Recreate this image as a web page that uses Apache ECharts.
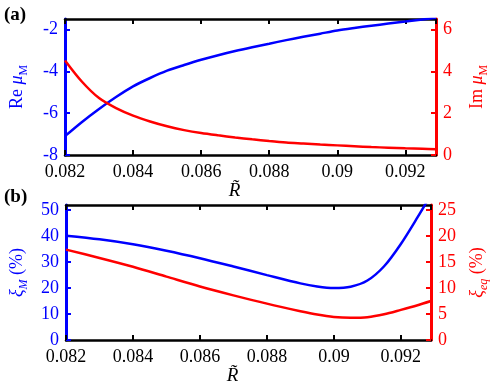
<!DOCTYPE html>
<html>
<head>
<meta charset="utf-8">
<script src="https://cdn.jsdelivr.net/npm/echarts@6/dist/echarts.min.js"></script>
<style>
  html, body { margin: 0; padding: 0; background: #fff; }
  #main { width: 498px; height: 388px; }
</style>
</head>
<body>
<div id="main"></div>
<script>
// panel (a): R~ against Re / Im of mu_M
const rTop = [0.082, 0.0825, 0.083, 0.0835, 0.084, 0.0845, 0.085, 0.0855, 0.086, 0.0865, 0.087, 0.0875,
              0.088, 0.0885, 0.089, 0.0895, 0.090, 0.0905, 0.091, 0.0915, 0.092, 0.0925, 0.0929];
const reMu = [-7.1, -6.42, -5.8, -5.23, -4.72, -4.32, -3.97, -3.7, -3.45, -3.23, -3.03, -2.85,
              -2.68, -2.51, -2.35, -2.2, -2.05, -1.93, -1.82, -1.72, -1.62, -1.52, -1.44];
const imMu = [4.52, 3.5, 2.72, 2.24, 1.88, 1.6, 1.37, 1.19, 1.05, 0.94, 0.84, 0.75,
              0.67, 0.6, 0.55, 0.5, 0.46, 0.42, 0.38, 0.35, 0.32, 0.3, 0.28];

// panel (b): R~ against xi_M and xi_eq (%)
const rBot = [0.082, 0.083, 0.084, 0.085, 0.086, 0.087, 0.088, 0.089, 0.0895, 0.090, 0.0905, 0.091, 0.0915, 0.092, 0.0925, 0.0929];
const xiM  = [40.2, 38.8, 36.9, 34.4, 31.5, 28.3, 25.0, 21.8, 20.6, 20.0, 20.5, 22.9, 28.4, 37.0, 47.3, 56.0];
const xiEq = [17.4, 15.8, 14.1, 12.2, 10.3, 8.6, 7.0, 5.55, 4.9, 4.45, 4.3, 4.4, 4.95, 5.8, 6.7, 7.5];

const xTicks = { min: 0.082, max: 0.0929, interval: 0.002 };

const BLUE = '#0000ff';
const RED = '#ff0000';
const FONT = 'Liberation Serif';

let myChart = echarts.init(document.getElementById('main'), null, { renderer: 'canvas' });

function pairs(xs, ys) {
  return xs.map((x, i) => [x, ys[i]]);
}

function bottomX(gridIndex) {
  return {
    type: 'value',
    gridIndex: gridIndex,
    position: 'bottom',
    min: xTicks.min, max: xTicks.max, interval: xTicks.interval,
    name: 'R\u0303',
    nameLocation: 'middle',
    nameGap: 19,
    nameTextStyle: { fontFamily: FONT, fontStyle: 'italic', fontSize: 19, color: '#000', padding: [0, 32, 0, 0] },
    axisLine: { onZero: false, lineStyle: { color: '#000', width: 2.5 } },
    axisTick: { inside: true, length: 5, lineStyle: { width: 2 } },
    axisLabel: {
      margin: 8, fontFamily: FONT, fontSize: 18, color: '#000', showMaxLabel: false,
      formatter: v => String(+v.toFixed(3))
    },
    splitLine: { show: false }
  };
}

// plain top frame line with inner ticks
function topX(gridIndex) {
  return {
    type: 'value',
    gridIndex: gridIndex,
    position: 'top',
    min: xTicks.min, max: xTicks.max, interval: xTicks.interval,
    axisLine: { onZero: false, lineStyle: { color: '#000', width: 2.5 } },
    axisTick: { inside: true, length: 5, lineStyle: { width: 2 } },
    axisLabel: { show: false },
    splitLine: { show: false }
  };
}

function yAx(gridIndex, pos, color, min, max, interval, name, rich, gap) {
  return {
    type: 'value',
    gridIndex: gridIndex,
    position: pos,
    min: min, max: max, interval: interval,
    name: name,
    nameLocation: 'middle',
    nameRotate: 90,
    nameGap: gap,
    nameTextStyle: { color: color, fontFamily: FONT, fontSize: 18, rich: rich },
    axisLine: { show: true, onZero: false, lineStyle: { color: color, width: 3 } },
    axisTick: { show: true, inside: true, length: 5, lineStyle: { color: color, width: 2 } },
    axisLabel: { margin: 7, fontFamily: FONT, fontSize: 18, color: color, showMaxLabel: false },
    splitLine: { show: false }
  };
}

function richFor(color) {
  return {
    n: { color: color, fontFamily: FONT, fontSize: 18, lineHeight: 26, verticalAlign: 'middle' },
    i: { color: color, fontFamily: FONT, fontSize: 18, fontStyle: 'italic', lineHeight: 26, verticalAlign: 'middle' },
    s: { color: color, fontFamily: FONT, fontSize: 12, height: 12, verticalAlign: 'bottom' },
    si: { color: color, fontFamily: FONT, fontSize: 12, fontStyle: 'italic', height: 12, verticalAlign: 'bottom' }
  };
}

function line(xi, yi, xs, ys, color) {
  return {
    type: 'line',
    xAxisIndex: xi,
    yAxisIndex: yi,
    data: pairs(xs, ys),
    smooth: 0.3,
    showSymbol: false,
    clip: true,
    lineStyle: { color: color, width: 2.5 },
    itemStyle: { color: color },
    z: 3
  };
}

myChart.setOption({
  backgroundColor: '#fff',
  animation: false,
  grid: [
    { left: 55, right: 56, top: 19, height: 136 },
    { left: 55, right: 56, top: 205, height: 135 }
  ],
  xAxis: [bottomX(0), topX(0), bottomX(1), topX(1)],
  yAxis: [
    yAx(0, 'left', BLUE, -8, -1.5, 2, '{n|Re }{i|μ}{s|M}', richFor(BLUE), 35),
    yAx(0, 'right', RED, 0, 6.5, 2, '{n|Im }{i|μ}{s|M}', richFor(RED), 28),
    yAx(1, 'left', BLUE, 0, 52, 10, '{i|ξ}{si|M}{n| (%)}', richFor(BLUE), 36),
    yAx(1, 'right', RED, 0, 26, 5, '{i|ξ}{si|eq}{n| (%)}', richFor(RED), 33)
  ],
  series: [
    line(0, 0, rTop, reMu, BLUE),
    line(0, 1, rTop, imMu, RED),
    line(2, 2, rBot, xiM, BLUE),
    line(2, 3, rBot, xiEq, RED)
  ],
  graphic: [
    { type: 'text', left: 4, top: 6, style: { text: '(a)', fontFamily: FONT, fontWeight: 'bold', fontSize: 19, fill: '#000' } },
    { type: 'text', left: 4, top: 188, style: { text: '(b)', fontFamily: FONT, fontWeight: 'bold', fontSize: 19, fill: '#000' } }
  ]
});
</script>
</body>
</html>
